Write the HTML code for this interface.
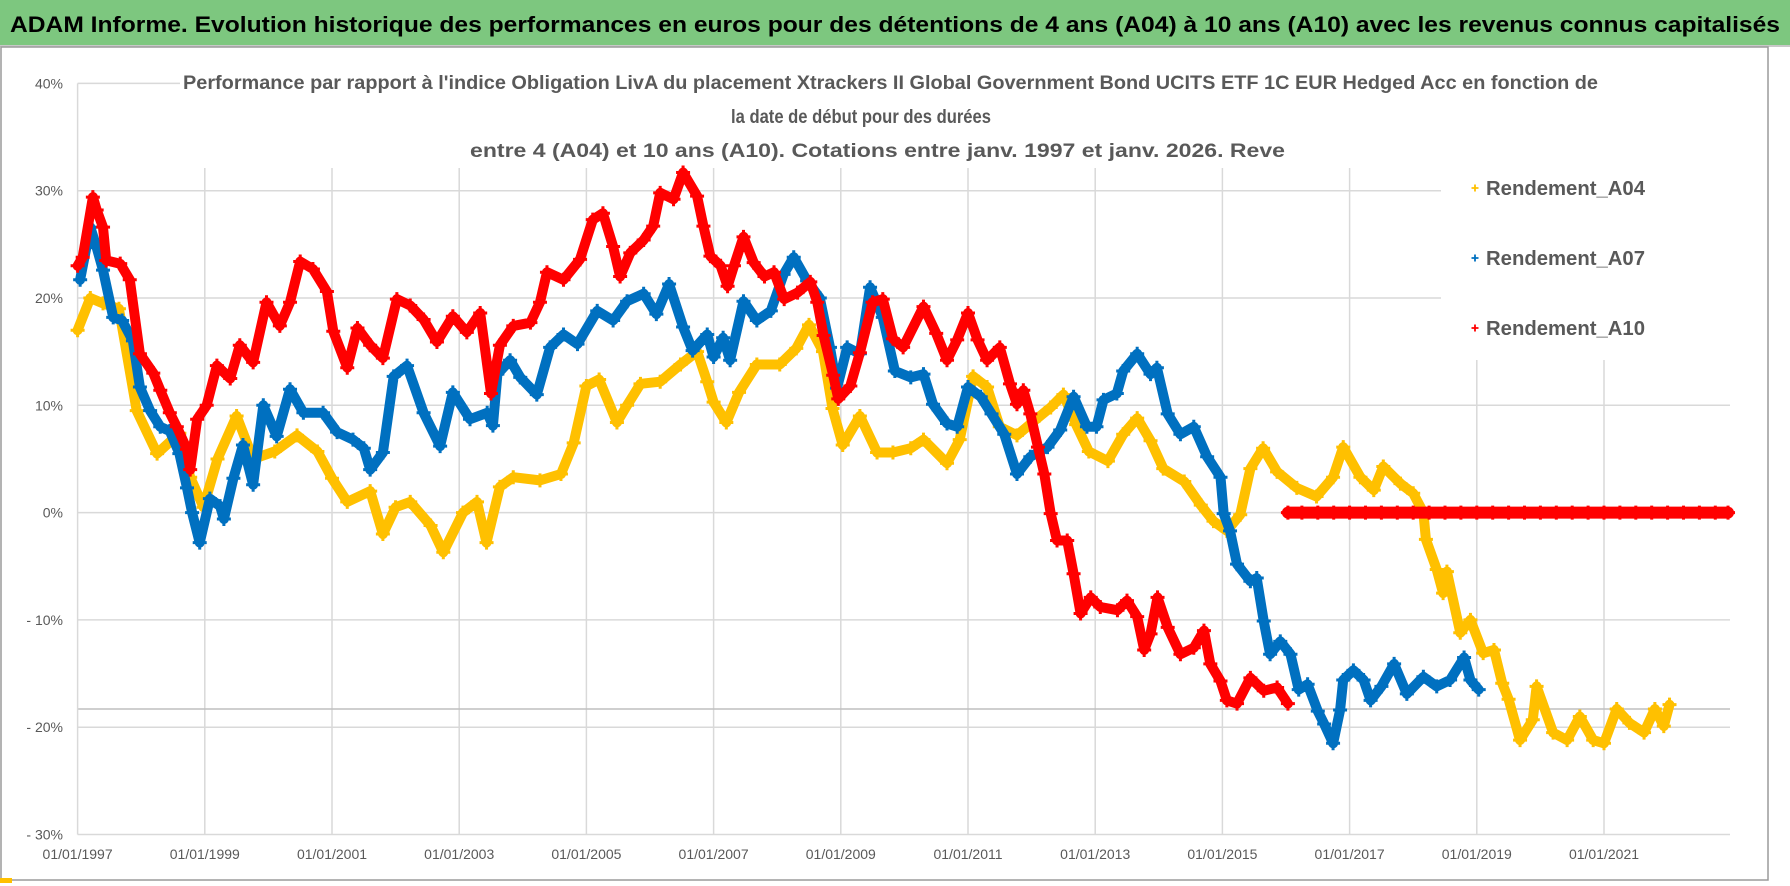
<!DOCTYPE html>
<html><head><meta charset="utf-8"><style>
html,body{margin:0;padding:0;background:#fff;}
svg{display:block;font-family:"Liberation Sans",sans-serif;}
</style></head><body>
<svg id="chart" width="1790" height="886" viewBox="0 0 1790 886">
  <rect x="0" y="0" width="1790" height="886" fill="#fff"/>
  <rect x="0" y="0" width="1790" height="45" fill="#7DC77F"/>
  <rect x="0" y="45" width="1790" height="2" fill="#c8c8c8"/>
  <text x="10" y="32" font-size="22" font-weight="bold" fill="#000" textLength="1770" lengthAdjust="spacingAndGlyphs">ADAM Informe. Evolution historique des performances en euros pour des détentions de 4 ans (A04) à 10 ans (A10) avec les revenus connus capitalisés</text>
  <rect x="1" y="47" width="1767" height="833" fill="none" stroke="#9a9a9a" stroke-width="1.5"/>
  <rect x="0" y="878" width="12" height="5" fill="#FFC000"/>
  <g id="grid"></g>
  <g id="axes"></g>
  <g id="series"></g>
  <rect x="1442" y="160" width="294" height="200" fill="#fff"/>
  <g id="legend"></g>
  <g fill="#595959" font-weight="bold" font-size="19">
    <text x="183" y="89" textLength="1415" lengthAdjust="spacingAndGlyphs">Performance par rapport à l'indice Obligation LivA  du placement Xtrackers II Global Government Bond UCITS ETF 1C EUR Hedged Acc  en fonction de</text>
    <text x="731" y="123" textLength="260" lengthAdjust="spacingAndGlyphs">la date de début pour des durées</text>
    <text x="470" y="157" textLength="815" lengthAdjust="spacingAndGlyphs">entre 4 (A04) et 10 ans (A10).  Cotations entre janv. 1997 et janv. 2026. Reve</text>
  </g>
</svg>
<script>
const yTicks = [40, 30, 20, 10, 0, -10, -20, -30];
const yTickLabels = ["40%", "30%", "20%", "10%", "0%", "- 10%", "- 20%", "- 30%"];
const xTicks = [1997, 1999, 2001, 2003, 2005, 2007, 2009, 2011, 2013, 2015, 2017, 2019, 2021];
const xTickLabels = ["01/01/1997","01/01/1999","01/01/2001","01/01/2003","01/01/2005","01/01/2007","01/01/2009","01/01/2011","01/01/2013","01/01/2015","01/01/2017","01/01/2019","01/01/2021"];
const refLineValue = -18.3;

const a04Dates = [1997.0,1997.2,1997.4,1997.65,1997.93,1998.25,1998.6,1998.77,1998.98,1999.2,1999.5,1999.76,2000.1,2000.45,2000.77,2001.0,2001.24,2001.6,2001.8,2002.0,2002.23,2002.55,2002.75,2003.06,2003.28,2003.43,2003.64,2003.85,2004.27,2004.6,2004.8,2005.0,2005.2,2005.48,2005.64,2005.85,2006.16,2006.48,2006.74,2006.9,2007.0,2007.2,2007.4,2007.68,2008.04,2008.3,2008.5,2008.72,2008.87,2009.03,2009.3,2009.57,2009.82,2010.1,2010.3,2010.67,2010.87,2011.08,2011.3,2011.5,2011.77,2012.03,2012.3,2012.5,2012.7,2012.9,2013.2,2013.44,2013.66,2013.87,2014.07,2014.4,2014.66,2014.86,2015.07,2015.28,2015.44,2015.64,2015.86,2016.17,2016.48,2016.74,2016.9,2017.17,2017.38,2017.53,2017.8,2018.0,2018.16,2018.2,2018.37,2018.47,2018.53,2018.74,2018.9,2019.1,2019.27,2019.4,2019.5,2019.68,2019.88,2019.94,2020.2,2020.42,2020.62,2020.83,2021.0,2021.2,2021.4,2021.63,2021.8,2021.94,2022.03];
const a04Values = [17,20,19.5,19,9.5,5.5,7.4,3.3,0.5,5,9,5,5.7,7.2,5.7,3.2,1,2,-2,0.5,1,-1.2,-3.7,0,1,-2.8,2.4,3.3,3,3.6,6.5,11.8,12.4,8.4,10,12,12.2,13.8,15,12.2,10.3,8.4,11.2,13.8,13.8,15.3,17.5,15,9.7,6.3,9,5.6,5.6,6,6.8,4.6,6.8,12.7,11.7,8,7.2,8.5,9.8,11,8.2,5.7,4.8,7.3,8.8,6.7,4.1,2.9,0.7,-0.8,-1.7,-0.2,4.1,6,3.8,2.3,1.5,3.3,6.1,3.3,2.1,4.3,2.7,1.8,0,-2.5,-5.3,-7.5,-5.5,-11.2,-10,-13.1,-12.8,-15.9,-17.4,-21.2,-19.3,-16.2,-20.5,-21.2,-19,-21.2,-21.5,-18.3,-19.6,-20.5,-18.3,-19.9,-17.9];

const a07Dates = [1997.04,1997.2,1997.3,1997.4,1997.56,1997.7,1997.87,1997.98,1998.14,1998.3,1998.45,1998.6,1998.72,1998.8,1998.92,1999.08,1999.24,1999.3,1999.45,1999.6,1999.76,1999.92,2000.13,2000.34,2000.55,2000.86,2001.08,2001.33,2001.5,2001.6,2001.8,2001.97,2002.18,2002.44,2002.7,2002.9,2003.17,2003.44,2003.53,2003.6,2003.8,2003.96,2004.22,2004.43,2004.64,2004.86,2005.17,2005.42,2005.64,2005.9,2006.1,2006.3,2006.52,2006.67,2006.9,2007.0,2007.15,2007.26,2007.47,2007.68,2007.9,2008.1,2008.26,2008.47,2008.67,2008.83,2008.94,2009.1,2009.3,2009.46,2009.66,2009.85,2010.1,2010.3,2010.45,2010.67,2010.83,2011.0,2011.2,2011.37,2011.57,2011.77,2011.98,2012.25,2012.45,2012.66,2012.87,2013.02,2013.13,2013.34,2013.44,2013.66,2013.87,2013.97,2014.14,2014.34,2014.55,2014.76,2014.97,2015.02,2015.12,2015.23,2015.44,2015.54,2015.65,2015.75,2015.91,2016.07,2016.2,2016.34,2016.5,2016.6,2016.74,2016.85,2016.9,2017.06,2017.22,2017.33,2017.5,2017.7,2017.9,2018.16,2018.37,2018.58,2018.8,2018.9,2019.03];
const a07Values = [21.7,26.6,24.7,22.6,18.2,17.9,16,11.7,9.5,8,7.6,5.5,2.3,0,-2.8,1.3,0.6,-0.6,3.2,6.3,2.6,10,7.1,11.5,9.3,9.3,7.5,6.8,6,4,5.6,12.7,13.7,9.3,6.2,11.2,8.7,9.3,8.1,12.9,14.2,12.6,11,15.4,16.6,15.7,18.8,17.9,19.7,20.4,18.5,21.3,17.3,15.1,16.6,14.5,16.3,14.2,19.7,17.9,18.8,22.2,23.8,21.6,20,15.4,11.6,15.4,14.8,21,18.2,13.2,12.6,12.9,10.1,8.3,8,11.7,10.8,9.2,7.3,3.6,5.2,6.1,7.7,10.8,8,8,10.5,11.1,13.2,14.8,12.9,13.5,9.2,7.3,8,5.2,3.3,-0.1,-1.7,-4.8,-6.4,-6.1,-10.1,-13.2,-12,-13.2,-16.5,-16,-18.5,-19.7,-21.5,-18.4,-15.6,-14.7,-15.6,-17.5,-16.2,-14.1,-16.9,-15.3,-16.2,-15.6,-13.5,-15.6,-16.5];

const a10Dates = [1997.0,1997.08,1997.24,1997.3,1997.4,1997.45,1997.67,1997.82,1997.98,1998.19,1998.3,1998.45,1998.56,1998.72,1998.77,1998.88,1999.03,1999.19,1999.4,1999.55,1999.76,1999.97,2000.18,2000.34,2000.5,2000.7,2000.92,2001.02,2001.24,2001.4,2001.6,2001.8,2002.02,2002.23,2002.44,2002.65,2002.9,2003.12,2003.33,2003.5,2003.64,2003.85,2004.12,2004.27,2004.38,2004.64,2004.9,2005.1,2005.26,2005.42,2005.53,2005.69,2005.9,2006.05,2006.16,2006.37,2006.52,2006.74,2006.84,2006.95,2007.11,2007.22,2007.32,2007.47,2007.63,2007.8,2007.95,2008.11,2008.32,2008.52,2008.63,2008.73,2008.88,2008.96,2009.15,2009.3,2009.5,2009.66,2009.82,2009.98,2010.3,2010.5,2010.67,2010.83,2011.0,2011.15,2011.3,2011.5,2011.66,2011.77,2011.87,2011.98,2012.1,2012.2,2012.3,2012.4,2012.56,2012.66,2012.77,2012.93,2013.08,2013.35,2013.5,2013.66,2013.77,2013.87,2013.98,2014.14,2014.34,2014.55,2014.71,2014.81,2014.97,2015.07,2015.23,2015.44,2015.65,2015.86,2016.03];
const a10Values = [23,23.8,29.4,28.2,26.6,23.5,23.2,21.7,14.8,13,11.4,9.3,8,5.9,4,8.7,10,13.7,12.5,15.6,14,19.6,17.4,19.6,23.4,22.7,20.6,16.9,13.5,17.2,15.6,14.4,19.9,19.3,18,15.9,18.3,16.8,18.6,11.1,15.6,17.4,17.7,19.6,22.4,21.7,23.6,27.3,27.9,24.8,22,24.2,25.4,26.7,29.8,29.2,31.7,29.5,26.7,23.9,23,21.1,23,25.7,23.3,22,22.4,19.9,20.5,21.5,19.6,16.5,12.8,10.6,11.8,14.9,19.6,19.9,16.2,15.4,19.2,16.7,14.2,16.1,18.6,16.1,14.2,15.4,12,10.1,11.4,9.2,6.1,3.6,-0.1,-2.6,-2.6,-5.7,-9.4,-7.9,-8.8,-9.1,-8.2,-9.7,-12.8,-11.3,-7.9,-10.7,-13.2,-12.6,-11,-14.1,-15.7,-17.5,-17.8,-15.4,-16.6,-16.3,-17.8];
const a10ZeroDates = [2016.03,2016.25,2016.5,2016.75,2017.0,2017.25,2017.5,2017.75,2018.0,2018.25,2018.5,2018.75,2019.0,2019.25,2019.5,2019.75,2020.0,2020.25,2020.5,2020.75,2021.0,2021.25,2021.5,2021.75,2022.0,2022.25,2022.5,2022.75,2022.95];
const a10ZeroValues = [0,0,0,0,0,0,0,0,0,0,0,0,0,0,0,0,0,0,0,0,0,0,0,0,0,0,0,0,0];

const seriesNames = ["Rendement_A04", "Rendement_A07", "Rendement_A10"];

const NS = "http://www.w3.org/2000/svg";
const X0 = 77.6, PX_PER_YEAR = 63.6, X_RIGHT = 1730;
const Y_ZERO = 512.6, PX_PER_PCT = 10.73;
function xScale(t) { return X0 + (t - 1997) * PX_PER_YEAR; }
function yScale(v) { return Y_ZERO - v * PX_PER_PCT; }
function mk(tag, attrs, parent) {
  const e = document.createElementNS(NS, tag);
  for (const k in attrs) e.setAttribute(k, attrs[k]);
  parent.appendChild(e);
  return e;
}
const grid = document.getElementById('grid');
const axes = document.getElementById('axes');
const series = document.getElementById('series');
const legend = document.getElementById('legend');

yTicks.forEach((v, i) => {
  const y = yScale(v);
  const xEnd = (v >= 20 && v <= 30) ? 1441 : (v === 40 ? 180 : X_RIGHT);
  const ln = mk('line', {x1: X0, x2: xEnd, y1: y, y2: y, stroke: '#d9d9d9', 'stroke-width': 1.5}, grid);
  
  
  const t = mk('text', {x: 63, y: y + 5, 'text-anchor': 'end', 'font-size': 14, fill: '#595959'}, axes);
  t.textContent = yTickLabels[i];
  
  
});
xTicks.forEach((yr, i) => {
  const x = xScale(yr);
  const top = (x > 1441) ? 360 : 168;
  if (i > 0) {
    const ln = mk('line', {x1: x, x2: x, y1: top, y2: yScale(-30), stroke: '#d9d9d9', 'stroke-width': 1.5}, grid);
    
    
  }
  const t = mk('text', {x: x, y: 859, 'text-anchor': 'middle', 'font-size': 14, fill: '#595959'}, axes);
  t.textContent = xTickLabels[i];
  
  
});
const yAxis = mk('line', {x1: X0, x2: X0, y1: yScale(40), y2: yScale(-30), stroke: '#d9d9d9', 'stroke-width': 1.5}, axes);


const refLine = mk('line', {x1: X0, x2: X_RIGHT, y1: yScale(refLineValue), y2: yScale(refLineValue), stroke: '#bfbfbf', 'stroke-width': 1.5}, grid);



function plusPath(x, y, s) {
  return `M${x - s},${y}H${x + s}M${x},${y - s}V${y + s}`;
}
function drawSeries(dates, values, color, name, band) {
  const g = mk('g', {}, series);
  
  
  const pts = dates.map((d, i) => xScale(d).toFixed(1) + ',' + yScale(values[i]).toFixed(1)).join(' ');
  const pl = mk('polyline', {points: pts, fill: 'none', stroke: color, 'stroke-width': band, 'stroke-linejoin': 'round', 'stroke-linecap': 'round'}, g);
  
  
  let d = '';
  dates.forEach((t, i) => { d += plusPath(xScale(t), yScale(values[i]), 7); });
  const mp = mk('path', {d: d, stroke: color, 'stroke-width': 3, fill: 'none'}, g);
  
  
}
drawSeries(a04Dates, a04Values, '#FFC000', 'series-a04', 10);
drawSeries(a07Dates, a07Values, '#0070C0', 'series-a07', 10);
drawSeries(a10Dates, a10Values, '#FF0000', 'series-a10', 10);
drawSeries(a10ZeroDates, a10ZeroValues, '#FF0000', 'series-a10-zero', 12);

const legendColors = ['#FFC000', '#0070C0', '#FF0000'];
const legendY = [188, 258, 328];
seriesNames.forEach((n, i) => {
  const g = mk('g', {}, legend);
  
  
  const m = mk('path', {d: plusPath(1475, legendY[i], 3.5), stroke: legendColors[i], 'stroke-width': 1.8}, g);
  
  
  const t = mk('text', {x: 1486, y: legendY[i] + 7, 'font-size': 20, 'font-weight': 'bold', fill: '#595959', textLength: 159, lengthAdjust: 'spacingAndGlyphs'}, g);
  t.textContent = n;
  
  
});
</script>
</body></html>
